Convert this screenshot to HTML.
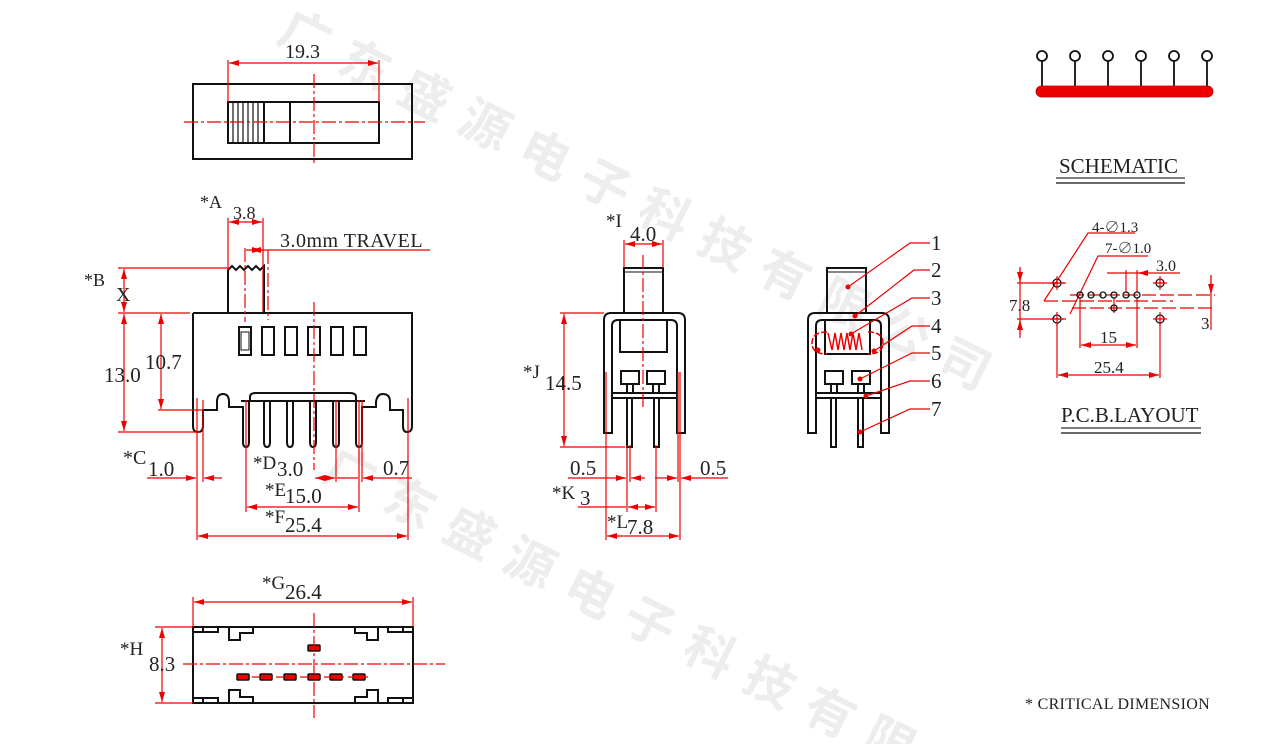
<!DOCTYPE html>
<html><head><meta charset="utf-8"><style>
html,body{margin:0;padding:0;background:#fff;overflow:hidden;width:1266px;height:744px}
svg{display:block;overflow:hidden}
text{font-family:"Liberation Serif","Noto Serif CJK SC",serif;fill:#222}
.wm text{font-family:"Noto Sans CJK SC",sans-serif;fill:#ededed;font-weight:bold;font-size:50px}
.k{stroke:#111;stroke-width:2;fill:none}
.r{stroke:#e00;stroke-width:1.2;fill:none}
.dd{stroke:#e00;stroke-width:1.2;fill:none;stroke-dasharray:14 3 3 3}
</style></head><body>
<svg width="1266" height="744" viewBox="0 0 1266 744" xmlns="http://www.w3.org/2000/svg">
<defs>
<marker id="a" viewBox="0 0 10 6" refX="10" refY="3" markerWidth="10" markerHeight="6" orient="auto-start-reverse" markerUnits="userSpaceOnUse"><path d="M0,0L10,3L0,6z" fill="#e00"/></marker>
</defs>
<!-- watermark -->
<g class="wm">
<text x="275" y="40" transform="rotate(26.5 275 40)" letter-spacing="17">广东盛源电子科技有限公司</text>
<text x="320" y="478" transform="rotate(26.5 320 478)" letter-spacing="17">广东盛源电子科技有限</text>
</g>

<!-- TOP VIEW -->
<rect x="193" y="84" width="219" height="75" class="k"/>
<rect x="228" y="102" width="151" height="41" class="k"/>
<rect x="228" y="102" width="36" height="41" class="k"/>
<rect x="264" y="102" width="26" height="41" class="k"/>
<g stroke="#111" stroke-width="1.2"><line x1="233" y1="102" x2="233" y2="143"/><line x1="238" y1="102" x2="238" y2="143"/><line x1="243" y1="102" x2="243" y2="143"/><line x1="248" y1="102" x2="248" y2="143"/><line x1="253" y1="102" x2="253" y2="143"/><line x1="258" y1="102" x2="258" y2="143"/></g>
<line x1="184" y1="122" x2="425" y2="122" class="dd"/>
<line x1="314" y1="74" x2="314" y2="166" class="dd"/>
<line x1="228" y1="60" x2="228" y2="102" class="r"/>
<line x1="379" y1="60" x2="379" y2="102" class="r"/>
<line x1="229" y1="63" x2="378" y2="63" class="r" marker-start="url(#a)" marker-end="url(#a)"/>
<text x="285" y="58" font-size="20">19.3</text>

<!-- FRONT VIEW -->
<path class="k" d="M228,313 L228,270 L232,266 L236,270 L240,266 L244,270 L248,266 L252,270 L256,266 L260,270 L264,266 L264,313"/>
<path class="k" d="M193,313 L412,313 L412,426 Q412,432 407,432 Q403,432 403,426 L403,410 L390,410 L390,402 Q390,394 383,394 Q377,394 376,402 L376,407 L362,407 L362,442 Q362,447 359,447 Q356,447 356,442 L356,401 M193,313 L193,426 Q193,432 198,432 Q203,432 203,426 L203,410 L217,410 L217,402 Q217,394 223,394 Q229,394 229,402 L229,407 L243,407 L243,442 Q243,447 246,447 Q249,447 249,442 L249,401"/>
<path class="k" d="M241,401 L365,401 M250,401 L250,397 Q250,393 256,393 L350,393 Q356,393 356,397 L356,401"/>
<g class="k">
<path d="M264,401 L264,442 Q264,447 267,447 Q270,447 270,442 L270,401"/>
<path d="M287,401 L287,442 Q287,447 290,447 Q293,447 293,442 L293,401"/>
<path d="M310,401 L310,442 Q310,447 313,447 Q316,447 316,442 L316,401"/>
<path d="M333,401 L333,442 Q333,447 336,447 Q339,447 339,442 L339,401"/>
<rect x="239" y="327" width="12" height="28"/><rect x="262" y="327" width="12" height="28"/><rect x="285" y="327" width="12" height="28"/><rect x="308" y="327" width="12" height="28"/><rect x="331" y="327" width="12" height="28"/><rect x="354" y="327" width="12" height="28"/>
</g>
<rect x="241" y="332" width="8" height="18" fill="none" stroke="#111" stroke-width="1"/>
<!-- front dims -->
<line x1="314" y1="302" x2="314" y2="470" class="dd"/>
<line x1="245" y1="248" x2="245" y2="322" class="dd"/>
<line x1="268" y1="250" x2="268" y2="320" class="dd"/>
<line x1="228" y1="218" x2="228" y2="270" class="r"/>
<line x1="263" y1="218" x2="263" y2="312" class="r"/>
<line x1="229" y1="222" x2="262" y2="222" class="r" marker-start="url(#a)" marker-end="url(#a)"/>
<text x="200" y="208" font-size="18">*A</text>
<text x="233" y="219" font-size="18">3.8</text>
<line x1="246" y1="250" x2="430" y2="250" class="r"/>
<line x1="251" y1="250" x2="262" y2="250" class="r" marker-start="url(#a)" marker-end="url(#a)"/>
<text x="280" y="247" font-size="20" letter-spacing="0.5">3.0mm  TRAVEL</text>
<line x1="118" y1="268" x2="230" y2="268" class="r"/>
<line x1="118" y1="313" x2="190" y2="313" class="r"/>
<line x1="124" y1="269" x2="124" y2="312" class="r" marker-start="url(#a)" marker-end="url(#a)"/>
<text x="84" y="286" font-size="18">*B</text>
<text x="116" y="301" font-size="20">X</text>
<line x1="124" y1="314" x2="124" y2="431" class="r" marker-start="url(#a)" marker-end="url(#a)"/>
<line x1="161" y1="314" x2="161" y2="409" class="r" marker-start="url(#a)" marker-end="url(#a)"/>
<line x1="158" y1="410" x2="203" y2="410" class="r"/>
<line x1="118" y1="432" x2="200" y2="432" class="r"/>
<text x="104" y="382" font-size="21">13.0</text>
<text x="145" y="369" font-size="21">10.7</text>
<line x1="197" y1="398" x2="197" y2="540" class="r"/>
<line x1="203" y1="400" x2="203" y2="482" class="r"/>
<line x1="408" y1="398" x2="408" y2="540" class="r"/>
<line x1="246" y1="400" x2="246" y2="512" class="r"/>
<line x1="359" y1="400" x2="359" y2="512" class="r"/>
<line x1="362" y1="400" x2="362" y2="482" class="r"/>
<line x1="336" y1="400" x2="336" y2="482" class="r"/>
<line x1="147" y1="478" x2="196" y2="478" class="r" marker-end="url(#a)"/>
<line x1="204" y1="478" x2="222" y2="478" class="r" marker-start="url(#a)"/>
<text x="123" y="464" font-size="20">*C</text>
<text x="148" y="476" font-size="21">1.0</text>
<line x1="315" y1="478" x2="335" y2="478" class="r" marker-start="url(#a)" marker-end="url(#a)"/>
<line x1="337" y1="478" x2="358" y2="478" class="r"/>
<line x1="363" y1="478" x2="412" y2="478" class="r" marker-start="url(#a)"/>
<text x="253" y="469" font-size="19">*D</text>
<text x="277" y="476" font-size="21">3.0</text>
<text x="383" y="475" font-size="21">0.7</text>
<line x1="247" y1="507" x2="358" y2="507" class="r" marker-start="url(#a)" marker-end="url(#a)"/>
<text x="265" y="496" font-size="19">*E</text>
<text x="285" y="503" font-size="21">15.0</text>
<line x1="198" y1="536" x2="407" y2="536" class="r" marker-start="url(#a)" marker-end="url(#a)"/>
<text x="265" y="523" font-size="19">*F</text>
<text x="285" y="532" font-size="21">25.4</text>

<!-- BOTTOM VIEW -->
<rect x="193" y="627" width="220" height="76" class="k"/>
<g class="k" stroke-width="1.6">
<path d="M193,632 L218,632 L218,627 M203,627 L203,632"/>
<path d="M229,627 L229,640 L240,640 L240,633 L253,633 L253,627"/>
<path d="M355,627 L355,633 L367,633 L367,640 L378,640 L378,627"/>
<path d="M413,632 L388,632 L388,627 M403,627 L403,632"/>
<path d="M193,698 L218,698 L218,703 M203,703 L203,698"/>
<path d="M229,703 L229,690 L240,690 L240,697 L253,697 L253,703"/>
<path d="M355,703 L355,697 L367,697 L367,690 L378,690 L378,703"/>
<path d="M413,698 L388,698 L388,703 M403,703 L403,698"/>
</g>
<g fill="#e00" stroke="#111" stroke-width="1.5">
<rect x="308" y="645" width="12" height="6" rx="1"/>
<rect x="237" y="674" width="12" height="6" rx="1"/><rect x="260" y="674" width="12" height="6" rx="1"/><rect x="284" y="674" width="12" height="6" rx="1"/><rect x="308" y="674" width="12" height="6" rx="1"/><rect x="330" y="674" width="12" height="6" rx="1"/><rect x="353" y="674" width="12" height="6" rx="1"/>
</g>
<line x1="183" y1="664" x2="445" y2="664" class="dd"/>
<line x1="314" y1="613" x2="314" y2="718" class="dd"/>
<line x1="240" y1="677" x2="370" y2="677" class="r" stroke-dasharray="8 4"/>
<line x1="193" y1="597" x2="193" y2="627" class="r"/>
<line x1="413" y1="597" x2="413" y2="627" class="r"/>
<line x1="194" y1="602" x2="412" y2="602" class="r" marker-start="url(#a)" marker-end="url(#a)"/>
<text x="262" y="589" font-size="19">*G</text>
<text x="285" y="599" font-size="21">26.4</text>
<line x1="155" y1="627" x2="193" y2="627" class="r"/>
<line x1="155" y1="703" x2="193" y2="703" class="r"/>
<line x1="162" y1="628" x2="162" y2="702" class="r" marker-start="url(#a)" marker-end="url(#a)"/>
<text x="120" y="655" font-size="19">*H</text>
<text x="149" y="671" font-size="21">8.3</text>

<!-- SIDE VIEW (middle) -->
<rect x="624" y="268" width="39" height="45" class="k"/>
<line x1="624" y1="272" x2="663" y2="272" stroke="#111" stroke-width="1"/>
<path class="k" d="M604,433 L604,320 Q604,313 611,313 L678,313 Q685,313 685,320 L685,433 L677,433 L677,326 Q677,320 671,320 L618,320 Q612,320 612,326 L612,433 Z"/>
<path class="k" d="M620,320 L620,352 L667,352 L667,320"/>
<line x1="612" y1="393" x2="677" y2="393" class="k"/>
<line x1="612" y1="398" x2="677" y2="398" class="k" stroke-width="1.5"/>
<g class="k" stroke-width="1.5">
<rect x="621" y="371" width="18" height="13"/><rect x="647" y="371" width="18" height="13"/>
<path d="M627,384 L627,393 M633,384 L633,393 M653,384 L653,393 M659,384 L659,393"/>
<path d="M627,398 L627,447 L632,447 L632,398 M654,398 L654,447 L659,447 L659,398"/>
</g>
<line x1="643" y1="255" x2="643" y2="410" class="dd"/>
<line x1="624" y1="240" x2="624" y2="268" class="r"/>
<line x1="663" y1="240" x2="663" y2="268" class="r"/>
<line x1="625" y1="244" x2="662" y2="244" class="r" marker-start="url(#a)" marker-end="url(#a)"/>
<text x="606" y="227" font-size="19">*I</text>
<text x="630" y="241" font-size="21">4.0</text>
<line x1="560" y1="313" x2="604" y2="313" class="r"/>
<line x1="560" y1="447" x2="625" y2="447" class="r"/>
<line x1="564" y1="314" x2="564" y2="446" class="r" marker-start="url(#a)" marker-end="url(#a)"/>
<text x="523" y="378" font-size="19">*J</text>
<text x="545" y="390" font-size="21">14.5</text>
<g class="r"><line x1="606" y1="372" x2="606" y2="540"/><line x1="627" y1="445" x2="627" y2="512"/><line x1="630" y1="445" x2="630" y2="482"/><line x1="656" y1="445" x2="656" y2="512"/><line x1="678" y1="372" x2="678" y2="482"/><line x1="680" y1="372" x2="680" y2="540"/></g>
<line x1="568" y1="478" x2="626" y2="478" class="r" marker-end="url(#a)"/>
<line x1="631" y1="478" x2="645" y2="478" class="r" marker-start="url(#a)"/>
<line x1="655" y1="478" x2="677" y2="478" class="r" marker-end="url(#a)"/>
<line x1="681" y1="478" x2="728" y2="478" class="r" marker-start="url(#a)"/>
<text x="570" y="475" font-size="21">0.5</text>
<text x="700" y="475" font-size="21">0.5</text>
<line x1="578" y1="507" x2="626" y2="507" class="r"/>
<line x1="628" y1="507" x2="655" y2="507" class="r" marker-start="url(#a)" marker-end="url(#a)"/>
<text x="552" y="499" font-size="19">*K</text>
<text x="580" y="505" font-size="21">3</text>
<line x1="607" y1="536" x2="679" y2="536" class="r" marker-start="url(#a)" marker-end="url(#a)"/>
<text x="607" y="528" font-size="19">*L</text>
<text x="627" y="534" font-size="21">7.8</text>

<!-- SIDE VIEW (right) -->
<rect x="827" y="268" width="39" height="45" class="k"/>
<line x1="827" y1="272" x2="866" y2="272" stroke="#111" stroke-width="1"/>
<path class="k" d="M808,433 L808,320 Q808,313 815,313 L882,313 Q889,313 889,320 L889,433 L881,433 L881,326 Q881,320 875,320 L822,320 Q816,320 816,326 L816,433 Z"/>
<path class="k" d="M825,320 L825,354 L870,354 L870,320"/>
<line x1="816" y1="393" x2="881" y2="393" class="k"/>
<line x1="816" y1="398" x2="881" y2="398" class="k" stroke-width="1.5"/>
<g class="k" stroke-width="1.5">
<rect x="825" y="371" width="18" height="13"/><rect x="852" y="371" width="18" height="13"/>
<path d="M831,384 L831,393 M837,384 L837,393 M858,384 L858,393 M864,384 L864,393"/>
<path d="M831,398 L831,447 L836,447 L836,398 M858,398 L858,447 L863,447 L863,398"/>
</g>
<path d="M828,333 L832,350 L835,333 L838,350 L841,333 L844,350 L847,333 L850,350 L853,333 L856,350 L859,333 L862,350" stroke="#e00" stroke-width="1.5" fill="none"/>
<path d="M827,332 Q812,332 812,343 Q812,354 827,354 M868,332 Q883,332 883,343 Q883,354 868,354" stroke="#e00" stroke-width="1.5" fill="none" stroke-dasharray="6 2"/>
<g fill="#e00">
<circle cx="848" cy="287" r="2.5"/><circle cx="855" cy="316" r="2.5"/><circle cx="851" cy="334" r="2.5"/><circle cx="818" cy="350" r="2.5"/><circle cx="874" cy="351" r="2.5"/><circle cx="860" cy="379" r="2.5"/><circle cx="866" cy="396" r="2.5"/><circle cx="860" cy="432" r="2.5"/>
</g>
<g class="r">
<polyline points="848,287 910,243 930,243"/>
<polyline points="855,316 914,270 930,270"/>
<polyline points="851,334 912,298 930,298"/>
<polyline points="874,351 912,326 930,326"/>
<polyline points="860,379 912,353 930,353"/>
<polyline points="866,396 910,381 930,381"/>
<polyline points="860,432 910,409 930,409"/>
</g>
<g font-size="21"><text x="931" y="250">1</text><text x="931" y="277">2</text><text x="931" y="305">3</text><text x="931" y="333">4</text><text x="931" y="360">5</text><text x="931" y="388">6</text><text x="931" y="416">7</text></g>

<!-- SCHEMATIC -->
<g stroke="#111" stroke-width="1.8" fill="#fff">
<line x1="1042" y1="61" x2="1042" y2="88"/><line x1="1075" y1="61" x2="1075" y2="88"/><line x1="1108" y1="61" x2="1108" y2="88"/><line x1="1141" y1="61" x2="1141" y2="88"/><line x1="1174" y1="61" x2="1174" y2="88"/><line x1="1207" y1="61" x2="1207" y2="88"/>
<circle cx="1042" cy="56" r="5"/><circle cx="1075" cy="56" r="5"/><circle cx="1108" cy="56" r="5"/><circle cx="1141" cy="56" r="5"/><circle cx="1174" cy="56" r="5"/><circle cx="1207" cy="56" r="5"/>
</g>
<rect x="1036" y="86" width="177" height="11" rx="5.5" fill="#e00" stroke="#b00" stroke-width="0.8"/>
<text x="1059" y="173" font-size="21">SCHEMATIC</text>
<line x1="1056" y1="178" x2="1185" y2="178" stroke="#555" stroke-width="1.5"/>
<line x1="1056" y1="183" x2="1185" y2="183" stroke="#111" stroke-width="1.2"/>

<!-- PCB LAYOUT -->
<g class="r">
<line x1="1020" y1="267" x2="1020" y2="338"/>
<line x1="1017" y1="283" x2="1066" y2="283"/><line x1="1017" y1="319" x2="1066" y2="319"/>
<line x1="1044" y1="301" x2="1173" y2="301" stroke-dasharray="14 4"/>
<line x1="1070" y1="295" x2="1215" y2="295" stroke-dasharray="14 4"/>
<line x1="1072" y1="308" x2="1215" y2="308" stroke-dasharray="14 4"/>
<line x1="1057" y1="322" x2="1057" y2="378"/><line x1="1160" y1="322" x2="1160" y2="378"/>
<line x1="1080" y1="298" x2="1080" y2="348"/><line x1="1137" y1="298" x2="1137" y2="348"/>
<line x1="1114" y1="298" x2="1114" y2="313"/>
<line x1="1126" y1="270" x2="1126" y2="292"/><line x1="1137" y1="270" x2="1137" y2="292"/>
<line x1="1107" y1="273" x2="1180" y2="273"/>
<line x1="1211" y1="275" x2="1211" y2="330"/>
<polyline points="1044,301 1088,233 1135,233"/>
<polyline points="1070,314 1098,256 1148,256"/>
</g>
<line x1="1020" y1="268" x2="1020" y2="282" class="r" marker-end="url(#a)"/>
<line x1="1020" y1="334" x2="1020" y2="320" class="r" marker-end="url(#a)"/>
<line x1="1081" y1="345" x2="1136" y2="345" class="r" marker-start="url(#a)" marker-end="url(#a)"/>
<line x1="1058" y1="375" x2="1159" y2="375" class="r" marker-start="url(#a)" marker-end="url(#a)"/>
<line x1="1142" y1="273" x2="1138" y2="273" class="r" marker-end="url(#a)"/>
<line x1="1211" y1="276" x2="1211" y2="294" class="r" marker-end="url(#a)"/>
<g stroke="#111" stroke-width="1.3" fill="none">
<circle cx="1057" cy="283" r="4"/><circle cx="1160" cy="283" r="4"/><circle cx="1057" cy="319" r="4"/><circle cx="1160" cy="319" r="4"/>
<circle cx="1080" cy="295" r="3"/><circle cx="1091" cy="295" r="3"/><circle cx="1103" cy="295" r="3"/><circle cx="1114" cy="295" r="3"/><circle cx="1126" cy="295" r="3"/><circle cx="1137" cy="295" r="3"/><circle cx="1114" cy="308" r="3"/>
</g>
<g class="r" stroke-width="1"><path d="M1050,283h14M1057,276v14M1153,283h14M1160,276v14M1050,319h14M1057,312v14M1153,319h14M1160,312v14"/></g>
<text x="1092" y="232" font-size="15">4-∅1.3</text>
<text x="1105" y="253" font-size="15">7-∅1.0</text>
<text x="1156" y="271" font-size="16">3.0</text>
<text x="1009" y="311" font-size="17">7.8</text>
<text x="1201" y="329" font-size="17">3</text>
<text x="1100" y="343" font-size="17">15</text>
<text x="1094" y="373" font-size="17">25.4</text>
<text x="1061" y="422" font-size="21">P.C.B.LAYOUT</text>
<line x1="1061" y1="428" x2="1201" y2="428" stroke="#555" stroke-width="1.5"/>
<line x1="1061" y1="433" x2="1201" y2="433" stroke="#111" stroke-width="1.2"/>

<text x="1025" y="709" font-size="16" letter-spacing="0.3">* CRITICAL  DIMENSION</text>
</svg>
</body></html>
